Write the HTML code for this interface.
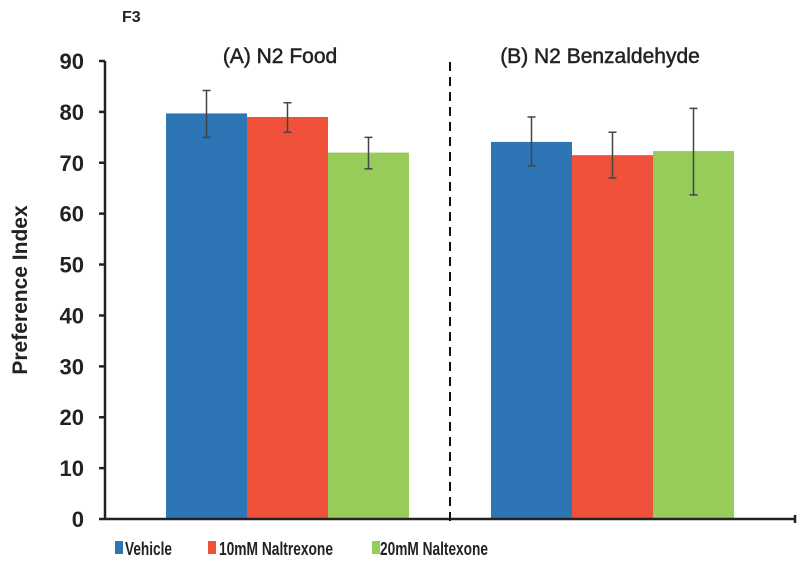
<!DOCTYPE html>
<html><head><meta charset="utf-8"><style>
body{margin:0;background:#fff;width:800px;height:563px;overflow:hidden}
svg{font-family:"Liberation Sans",sans-serif;font-weight:bold}
</style></head><body>
<svg id="chart" width="800" height="563">
<text x="122" y="22" font-size="16" fill="#222">F3</text>
<text x="280" y="63" font-size="21" font-weight="normal" text-anchor="middle" fill="#222" stroke="#222" stroke-width="0.5">(A) N2 Food</text>
<text x="600" y="63" font-size="21" font-weight="normal" text-anchor="middle" fill="#222" stroke="#222" stroke-width="0.5">(B) N2 Benzaldehyde</text>
<text transform="translate(27,290) rotate(-90)" font-size="21" text-anchor="middle" fill="#222">Preference Index</text>
<g id="bars"></g>
<g id="axes"></g>
<line x1="450" y1="62" x2="450" y2="522" stroke="#111" stroke-width="2" stroke-dasharray="9,6"/>
<g>
<rect x="115" y="541" width="8" height="13" fill="#2e75b6"/>
<text x="125" y="555" font-size="18" fill="#222" textLength="47" lengthAdjust="spacingAndGlyphs">Vehicle</text>
<rect x="208" y="541" width="8" height="13" fill="#ef513a"/>
<text x="219" y="555" font-size="18" fill="#222" textLength="114" lengthAdjust="spacingAndGlyphs">10mM Naltrexone</text>
<rect x="372" y="541" width="8" height="13" fill="#97cb5a"/>
<text x="380" y="555" font-size="18" fill="#222" textLength="108" lengthAdjust="spacingAndGlyphs">20mM Naltexone</text>
</g>
</svg>
<script>
const groups=["(A) N2 Food","(B) N2 Benzaldehyde"];
const series=["Vehicle","10mM Naltrexone","20mM Naltexone"];
const colors=["#2e75b6","#ef513a","#97cb5a"];
const vehicle=[79.7,74.1];
const nal10=[79.0,71.5];
const nal20=[72.0,72.3];
const errHi=[[84.2,79.0],[81.8,76.0],[75.0,80.7]];
const errLo=[[75.0,69.4],[76.0,67.0],[68.8,63.7]];
const yTicks=[0,10,20,30,40,50,60,70,80,90];
const ns="http://www.w3.org/2000/svg";
const y0=519,yTop=61,yMax=90;
function y(v){return y0-(v/yMax)*(y0-yTop);}
const groupStart=[166,491],barW=81;
function bx(g,s){return groupStart[g]+s*barW;}
const vals=[vehicle,nal10,nal20];
const bars=document.getElementById('bars');
for(let g=0;g<groups.length;g++){for(let s=0;s<series.length;s++){
 const v=vals[s][g];
 const r=document.createElementNS(ns,'rect');
 r.setAttribute('x',bx(g,s));r.setAttribute('y',y(v));r.setAttribute('width',barW);r.setAttribute('height',y(0)-y(v));r.setAttribute('fill',colors[s]);
 
 
 bars.appendChild(r);
 const cx=bx(g,s)+barW/2;
 const e=document.createElementNS(ns,'path');
 e.setAttribute('d',`M${cx},${y(errHi[s][g])}V${y(errLo[s][g])}M${cx-4},${y(errHi[s][g])}h8M${cx-4},${y(errLo[s][g])}h8`);
 e.setAttribute('stroke','#444');e.setAttribute('stroke-width','1.5');e.setAttribute('fill','none');
 
 
 bars.appendChild(e);
}}
const ax=document.getElementById('axes');
let p=`M105,${y(90)}V${y(0)}M100,${y(0)}H795M795,${y(0)-4}V${y(0)+4}`;
yTicks.forEach(t=>{p+=`M99,${y(t)}H105`;
 const tx=document.createElementNS(ns,'text');
 tx.setAttribute('x',84);tx.setAttribute('y',y(t)+8);tx.setAttribute('text-anchor','end');tx.setAttribute('font-size','22');tx.setAttribute('fill','#222');
 tx.textContent=t;
 
 
 ax.appendChild(tx);});
const a=document.createElementNS(ns,'path');
a.setAttribute('d',p);a.setAttribute('stroke','#222');a.setAttribute('stroke-width','2.5');a.setAttribute('fill','none');


ax.appendChild(a);
</script>
</body></html>
